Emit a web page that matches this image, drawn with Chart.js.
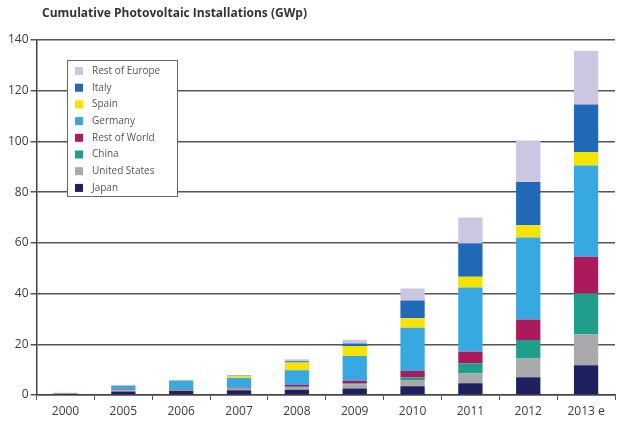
<!DOCTYPE html>
<html>
<head>
<meta charset="utf-8">
<script src="https://cdn.jsdelivr.net/npm/chart.js@4"></script>
<style>
  html, body { margin: 0; padding: 0; background: #fff; }
  #wrap { width: 624px; height: 421px; }
</style>
</head>
<body>
<div id="wrap"><canvas id="pvChart" width="624" height="421"></canvas></div>
<script>
const years = ["2000", "2005", "2006", "2007", "2008", "2009", "2010", "2011", "2012", "2013 e"];
const japan = [0.35, 1.4, 1.7, 1.9, 2.1, 2.6, 3.5, 4.6, 7.0, 11.7];
const unitedStates = [0.15, 0.4, 0.3, 0.6, 1.1, 1.6, 2.4, 3.9, 7.4, 12.3];
const china = [0, 0.05, 0.05, 0.1, 0.1, 0.3, 1.0, 4.0, 7.3, 16.0];
const restOfWorld = [0.2, 0.3, 0.2, 0.3, 0.6, 1.1, 2.6, 4.6, 8.1, 14.5];
const germany = [0.1, 1.6, 3.4, 3.8, 5.9, 9.8, 17.0, 25.3, 32.3, 36.0];
const spain = [0, 0.05, 0.1, 0.7, 3.0, 3.9, 3.8, 4.2, 4.8, 5.3];
const italy = [0, 0.05, 0.05, 0.2, 0.5, 1.0, 7.0, 13.1, 17.1, 18.8];
const restOfEurope = [0.1, 0.1, 0.1, 0.3, 0.8, 1.5, 4.7, 10.3, 16.4, 21.2];
const yTicks = [0, 20, 40, 60, 80, 100, 120, 140];

const textColor = "#3c3c3c";
const fontFamily = "'Open Sans', 'DejaVu Sans', sans-serif";

// title + legend box drawn inside the plot, top left
const boxesPlugin = {
  id: "boxes",
  afterDraw(chart) {
    const ctx = chart.ctx;
    ctx.save();
    ctx.fillStyle = "#333";
    ctx.font = "bold 12px " + fontFamily;
    ctx.textBaseline = "middle";
    ctx.textAlign = "left";
    ctx.fillText("Cumulative Photovoltaic Installations (GWp)", 42, 14);

    const x0 = 67, y0 = 60, w = 110, h = 136;
    ctx.fillStyle = "#fff";
    ctx.fillRect(x0, y0, w, h);
    ctx.strokeStyle = "#666";
    ctx.lineWidth = 1;
    ctx.strokeRect(x0 + 0.5, y0 + 0.5, w, h);

    const sets = chart.data.datasets.slice().reverse();
    ctx.font = "10px " + fontFamily;
    sets.forEach((ds, i) => {
      const cy = y0 + 11 + i * 16.7;
      ctx.fillStyle = ds.backgroundColor;
      ctx.fillRect(x0 + 8, cy - 4, 8, 8);
      ctx.fillStyle = "#555";
      ctx.fillText(ds.label, x0 + 25, cy);
    });
    ctx.restore();
  }
};

new Chart(document.getElementById("pvChart"), {
  type: "bar",
  data: {
    labels: years,
    datasets: [
      { label: "Japan", data: japan, backgroundColor: "#1d2160" },
      { label: "United States", data: unitedStates, backgroundColor: "#a9a9ab" },
      { label: "China", data: china, backgroundColor: "#1f9e8c" },
      { label: "Rest of World", data: restOfWorld, backgroundColor: "#ad1a5c" },
      { label: "Germany", data: germany, backgroundColor: "#38a9e0" },
      { label: "Spain", data: spain, backgroundColor: "#f4e400" },
      { label: "Italy", data: italy, backgroundColor: "#1f69b6" },
      { label: "Rest of Europe", data: restOfEurope, backgroundColor: "#cbc6e2" }
    ]
  },
  options: {
    responsive: false,
    animation: false,
    layout: { padding: { top: 40, left: 6, right: 9, bottom: 2 } },
    datasets: { bar: { categoryPercentage: 1, barPercentage: 0.42 } },
    plugins: {
      legend: { display: false },
      tooltip: { enabled: false }
    },
    scales: {
      x: {
        stacked: true,
        afterFit(axis) { axis.height = 24; },
        grid: { display: true, drawOnChartArea: false, offset: true, tickLength: 5, color: "#555" },
        border: { display: true, color: "#444", width: 1.5 },
        ticks: { color: textColor, font: { family: fontFamily, size: 12 }, padding: 4 }
      },
      y: {
        stacked: true,
        min: 0,
        max: 140,
        afterBuildTicks(axis) {
          axis.ticks = yTicks.map(v => ({ value: v }));
        },
        grid: { color: "#555", lineWidth: 1.5, tickLength: 6 },
        border: { display: true, color: "#444", width: 1.5 },
        ticks: { color: textColor, font: { family: fontFamily, size: 12 }, padding: 2 }
      }
    }
  },
  plugins: [boxesPlugin]
});
</script>
</body>
</html>
